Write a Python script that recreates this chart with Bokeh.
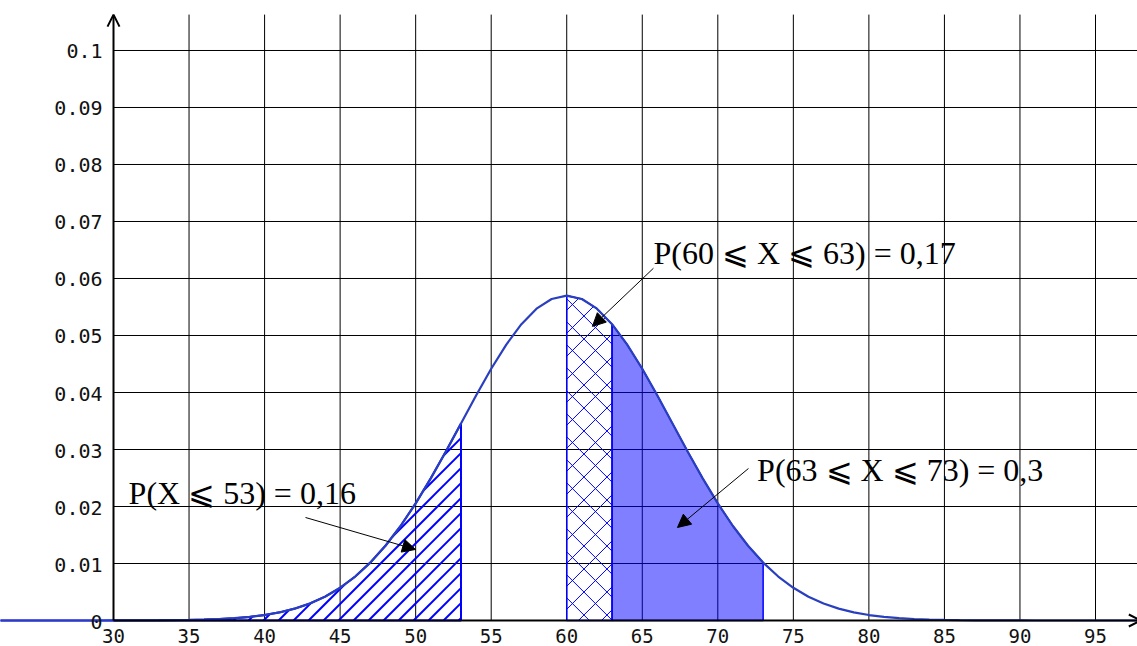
import numpy as np
from bokeh.plotting import figure
from bokeh.models import Range1d, Arrow, NormalHead, OpenHead
from bokeh.core.properties import value
from bokeh.embed import file_html
from bokeh.resources import INLINE

# ---- data ----
x_vals = list(range(22, 99))
density = [0.0, 0.0, 0.0, 0.0, 0.0, 0.0, 0.0, 0.0,
           0.00001, 0.00001, 0.00002, 0.00003, 0.00006, 0.0001, 0.00016, 0.00026,
           0.00041, 0.00063, 0.00096, 0.00143, 0.00209, 0.00299, 0.00418, 0.00574,
           0.00771, 0.01016, 0.01311, 0.01658, 0.02054, 0.02494, 0.02966, 0.03456,
           0.03947, 0.04416, 0.04841, 0.05199, 0.05471, 0.05641, 0.05699, 0.05641,
           0.05471, 0.05199, 0.04841, 0.04416, 0.03947, 0.03456, 0.02966, 0.02494,
           0.02054, 0.01658, 0.01311, 0.01016, 0.00771, 0.00574, 0.00418, 0.00299,
           0.00209, 0.00143, 0.00096, 0.00063, 0.00041, 0.00026, 0.00016, 0.0001,
           0.00006, 0.00003, 0.00002, 0.00001, 0.00001,
           0.0, 0.0, 0.0, 0.0, 0.0, 0.0, 0.0, 0.0]

x_ticks = [30, 35, 40, 45, 50, 55, 60, 65, 70, 75, 80, 85, 90, 95]
x_tick_labels = ["30", "35", "40", "45", "50", "55", "60", "65", "70", "75", "80", "85", "90", "95"]
y_ticks = [0, 0.01, 0.02, 0.03, 0.04, 0.05, 0.06, 0.07, 0.08, 0.09, 0.1]
y_tick_labels = ["0", "0.01", "0.02", "0.03", "0.04", "0.05", "0.06", "0.07", "0.08", "0.09", "0.1"]

region_left = (22, 53)      # P(X <= 53) = 0,16
region_mid = (60, 63)       # P(60 <= X <= 63) = 0,17
region_right = (63, 73)     # P(63 <= X <= 73) = 0,3

labels = ["P(X ⩽ 53) = 0,16", "P(60 ⩽ X ⩽ 63) = 0,17", "P(63 ⩽ X ⩽ 73) = 0,3"]

# ---- figure ----
W, H = 1137, 646
X0, X1 = 22.52, 97.78
Y0, Y1 = -0.00456, 0.10877
p = figure(width=W, height=H, output_backend="svg", toolbar_location=None,
           x_range=Range1d(X0, X1), y_range=Range1d(Y0, Y1),
           x_axis_location=None, y_axis_location=None, min_border=0)
p.outline_line_color = None
p.grid.visible = False
p.background_fill_color = "white"

AX_TOP = 0.1063
SX = W / (X1 - X0)        # px per x unit
SY = H / (Y1 - Y0)        # px per y unit
K = SX / SY               # slope of a 45-degree (screen) line in data units

# grid
gx = [t for t in x_ticks if t != 30]
p.segment(x0=gx, y0=[0] * len(gx), x1=gx, y1=[AX_TOP] * len(gx), line_color="black", line_width=1)
gy = [t for t in y_ticks if t != 0]
p.segment(x0=[30] * len(gy), y0=gy, x1=[X1] * len(gy), y1=gy, line_color="black", line_width=1)

# axes
p.add_layout(Arrow(x_start=30, y_start=0, x_end=30, y_end=AX_TOP, line_width=2, line_color="black",
                   end=OpenHead(size=12, line_width=2, line_color="black")))
p.add_layout(Arrow(x_start=30, y_start=0, x_end=98.0, y_end=0, line_width=2, line_color="black",
                   end=OpenHead(size=12, line_width=2, line_color="black")))

XA = np.array(x_vals, dtype=float)
YA = np.array(density, dtype=float)


def curve_at(x):
    return float(np.interp(x, XA, YA))


def clip_line(a, b, lo, hi):
    """Parts of the line y = a + b*x lying under the curve, above 0, for lo<=x<=hi."""
    pts = [lo, hi] + [float(x) for x in XA if lo < x < hi]
    for i in range(len(XA) - 1):
        xa, xb, ya, yb = XA[i], XA[i + 1], YA[i], YA[i + 1]
        m = (yb - ya) / (xb - xa)
        if abs(b - m) > 1e-15:
            xr = (ya - m * xa - a) / (b - m)
            if max(lo, xa) < xr < min(hi, xb):
                pts.append(float(xr))
    if b != 0:
        xr = -a / b
        if lo < xr < hi:
            pts.append(xr)
    pts = sorted(set(pts))
    segs = []
    for u, v in zip(pts[:-1], pts[1:]):
        mid = 0.5 * (u + v)
        ym = a + b * mid
        if -1e-12 <= ym <= curve_at(mid) + 1e-12:
            if segs and abs(segs[-1][1] - u) < 1e-9:
                segs[-1][1] = v
            else:
                segs.append([u, v])
    return [(u, a + b * u, v, a + b * v) for u, v in segs]


def hatch(lo, hi, direction, spacing_px, anchor):
    step = spacing_px / SX
    reach = YA.max() / K + step
    out = []
    n_lo = int(np.floor((lo - reach - anchor) / step)) - 1
    n_hi = int(np.ceil((hi + reach - anchor) / step)) + 1
    for n in range(n_lo, n_hi + 1):
        c = anchor + n * step
        if direction == "/":
            out += clip_line(-K * c, K, lo, hi)
        else:
            out += clip_line(K * c, -K, lo, hi)
    return out


def region(lo, hi):
    xs = [x for x in x_vals if lo <= x <= hi]
    ys = [density[x_vals.index(x)] for x in xs]
    return [xs[0]] + xs + [xs[-1]], [0] + ys + [0]


# left hatched region
hs = hatch(*region_left, "/", 15, 52.84)
p.segment(x0=[s[0] for s in hs], y0=[s[1] for s in hs], x1=[s[2] for s in hs], y1=[s[3] for s in hs],
          line_color="#0000ff", line_width=2)
rx, ry = region(*region_left)
p.patch(rx, ry, fill_alpha=0, line_color="#0000ff", line_width=2)

# middle cross-hatched region
hs = hatch(*region_mid, "/", 23, 44.03) + hatch(*region_mid, "\\", 23, 79.77)
p.segment(x0=[s[0] for s in hs], y0=[s[1] for s in hs], x1=[s[2] for s in hs], y1=[s[3] for s in hs],
          line_color="#0000ff", line_width=1)
rx, ry = region(*region_mid)
p.patch(rx, ry, fill_alpha=0, line_color="#0000ff", line_width=1.5)

# right filled region
rx, ry = region(*region_right)
p.patch(rx, ry, fill_color="#0000ff", fill_alpha=0.5, line_color="#0000ff", line_width=1.5)

# density curve
p.line(x_vals, density, line_color="#2a3fbf", line_width=2.2)

# annotation arrows
for (xs, ys, xe, ye) in [(42.71, 0.01807, 49.99, 0.01246),
                         (65.74, 0.0618, 61.7, 0.0516),
                         (72.03, 0.02667, 67.33, 0.01632)]:
    p.add_layout(Arrow(x_start=xs, y_start=ys, x_end=xe, y_end=ye, line_width=1, line_color="black",
                       end=NormalHead(size=13, fill_color="black", line_color="black", line_width=1)))

p.text(x=[31.0, 65.74, 72.6], y=[0.02237, 0.06447, 0.02649], text=labels,
       text_font=value("Liberation Serif"), text_font_size="32px", text_color="black",
       text_baseline="middle", text_align="left")

# tick labels
p.text(x=[30] * len(y_ticks), y=y_ticks, text=y_tick_labels, x_offset=-11, y_offset=1,
       text_font=value("DejaVu Sans Mono"), text_font_size="20px", text_color="#111111",
       text_align="right", text_baseline="middle")
p.text(x=x_ticks, y=[0] * len(x_ticks), text=x_tick_labels, y_offset=15,
       text_font=value("DejaVu Sans Mono"), text_font_size="19px", text_color="#111111",
       text_align="center", text_baseline="middle")

open("out.html", "w").write(file_html(p, INLINE))
